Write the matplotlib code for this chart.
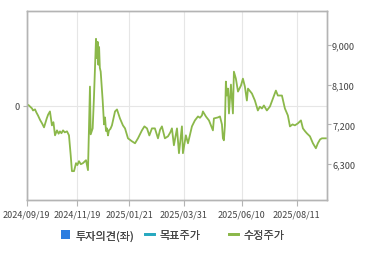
import matplotlib
matplotlib.use("Agg")
import matplotlib.pyplot as plt
from matplotlib.lines import Line2D
from matplotlib.patches import Patch

plt.rcParams['font.family'] = ['Noto Sans CJK KR', 'DejaVu Sans']

# trading-day index and adjusted price (수정주가)
day = [0, 1.5, 2.8, 4.5, 5.3, 6.9, 8.0, 9.3, 11.0, 12.6, 14.2, 16.4, 17.5, 19, 20.6, 21.8,
       23.1, 24.7, 26.0, 27.1, 28.3, 29.6, 31.0, 32.8, 34.4, 35.8, 36.8, 38.5, 40.1, 41.2,
       42.5, 44.0, 45.7, 48.2, 49.8, 50.6, 51.4, 52, 53.6, 54.7, 55.5, 56.3, 57.0, 57.6,
       58.2, 58.8, 59.4, 60.1, 61.7, 62.8, 63.6, 64.4, 65.2, 66.0, 66.8, 68.0, 69.2, 71.7,
       73.3, 75.7, 78.1, 79.8, 82.2, 85.4, 87.9, 90.3, 93.5, 95.5, 97.6, 99.5, 101.6, 104,
       106.5, 108.2, 109.7, 112.1, 114.6, 116.5, 117.8, 119.4, 121.9, 123.5, 125.9, 126.7,
       129.1, 130.8, 134, 136.4, 138.9, 140.5, 142.1, 142.9, 145.3, 147.8, 151, 151.8,
       155.1, 156.7, 158.3, 159.1, 159.9, 160.7, 161.5, 162.3, 163.2, 164, 165.6, 167.2,
       168, 169.6, 171.3, 173.7, 175.3, 176.9, 178.5, 179.4, 182.6, 185, 187.4, 189.0,
       190.7, 192.3, 194.7, 197.2, 199.6, 202, 203.6, 206.9, 209.3, 211.7, 213.4, 215.5,
       217.4, 219.8, 222.3, 223.9, 225.5, 227.1, 229.6, 232, 234.4, 236, 237.8, 239.3,
       242.5]
price = [7634, 7640, 7605, 7560, 7515, 7540, 7470, 7403, 7300, 7223, 7133, 7335, 7420,
         7493, 7178, 7250, 6953, 7065, 6990, 7043, 7000, 7065, 7020, 7043, 6953, 6503,
         6143, 6143, 6323, 6280, 6368, 6300, 6323, 6390, 6165, 7065, 8055, 6975, 7110,
         7853, 8460, 9135, 8700, 9068, 8550, 8950, 8480, 8393, 7740, 7200, 7358, 7050,
         7110, 6950, 7065, 7100, 7178, 7493, 7538, 7335, 7178, 7110, 6885, 6818, 6773,
         6885, 7065, 7155, 7110, 6950, 7110, 7110, 6885, 7080, 7155, 6885, 6930, 7020,
         7110, 6728, 7110, 6548, 7155, 6548, 6953, 6773, 7155, 7290, 7380, 7350, 7403,
         7493, 7380, 7290, 7065, 7335, 7358, 7380, 7200, 6885, 6840, 7178, 8168, 7853,
         8010, 7448, 8100, 7448, 8393, 8235, 7943, 8078, 8235, 8055, 7740, 8010, 7898,
         7740, 7515, 7600, 7560, 7628, 7515, 7605, 7785, 7965, 7853, 7853, 7560, 7403,
         7155, 7200, 7178, 7223, 7290, 7110, 7050, 6998, 6930, 6773, 6660, 6773, 6860,
         6885, 6885]

tick_pos = [0, 41, 83.4, 127.5, 174.5, 219]
tick_labels = ['2024/09/19', '2024/11/19', '2025/01/21', '2025/03/31', '2025/06/10', '2025/08/11']
right_ticks = [6300, 7200, 8100, 9000]
legend_labels = ['투자의견(좌)', '목표주가', '수정주가']

fig = plt.figure(figsize=(3.7, 2.55), dpi=100)
ax = fig.add_axes([26.5/370, 1 - 201/255, 300/370, 189/255])
ax2 = ax.twinx()

grid_c = '#e6e6e6'
spine_c = '#b4b4b4'
txt_c = '#444444'

ax.set_xlim(0, 243)
ax.set_ylim(-1, 1)
ax.set_yticks([0])
ax.set_yticklabels(['0'])
ax.set_xticks(tick_pos)
ax.set_xticklabels(tick_labels)
ax.grid(True, color=grid_c, linewidth=0.8)
ax.set_axisbelow(True)

ax2.set_ylim(5490, 9765)
ax2.set_yticks(right_ticks)
ax2.set_yticklabels([f'{v:,}' for v in right_ticks])
ax2.plot(day, price, color='#8bb84a', linewidth=1.3, solid_joinstyle='round')

for a in (ax, ax2):
    for s in a.spines.values():
        s.set_color(spine_c)
        s.set_linewidth(1.0)
ax.tick_params(axis='x', colors=spine_c, labelcolor=txt_c, labelsize=6.5, length=4, pad=3)
ax.tick_params(axis='y', colors=spine_c, labelcolor=txt_c, labelsize=6.6, length=3, pad=2)
ax2.tick_params(axis='y', colors=spine_c, labelcolor=txt_c, labelsize=6.6, length=3, pad=1)

handles = [Patch(facecolor='#2b7de0', edgecolor='none'),
           Line2D([0], [0], color='#27a9c0', linewidth=2),
           Line2D([0], [0], color='#8bb84a', linewidth=2)]
lefts = [61, 145, 229]
for h, lab, xl in zip(handles, legend_labels, lefts):
    leg = fig.legend([h], [lab], loc='center left', bbox_to_anchor=(xl/370, 1 - 236/255),
                     frameon=False, fontsize=8, handlelength=0.85, handleheight=0.9,
                     handletextpad=0.45, borderpad=0, borderaxespad=0, labelcolor=txt_c)
    fig.add_artist(leg)

fig.savefig('out.png', dpi=100)
